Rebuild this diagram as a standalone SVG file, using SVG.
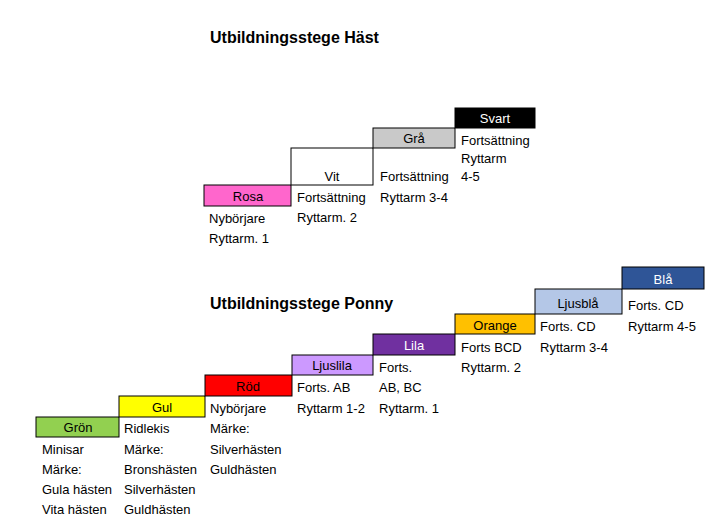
<svg xmlns="http://www.w3.org/2000/svg" width="716" height="530" viewBox="0 0 716 530">
<style>
text{font-family:"Liberation Sans",Arial,sans-serif;font-size:13px;fill:#000}
.t{font-size:16px;font-weight:bold}
.c{text-anchor:middle}
.w{fill:#fff}
.s{stroke:#000;stroke-width:1}
</style>
<rect width="716" height="530" fill="#fff"/>
<text class="t" x="210" y="43">Utbildningsstege Häst</text>
<text class="t" x="210" y="309">Utbildningsstege Ponny</text>
<g id="rosa"><rect class="s" x="204" y="185" width="87" height="21" fill="#ff66cc"/><text class="c" x="248" y="201">Rosa</text><text x="209" y="223">Nybörjare</text><text x="209" y="243">Ryttarm. 1</text></g>
<g id="vit"><rect class="s" x="291" y="148" width="82" height="37" fill="#fff"/><text class="c" x="332" y="181">Vit</text><text x="297" y="202">Fortsättning</text><text x="297" y="222">Ryttarm. 2</text></g>
<g id="gra"><rect class="s" x="373" y="128" width="82" height="20" fill="#c9c9c9"/><text class="c" x="414" y="143">Grå</text><text x="380" y="181">Fortsättning</text><text x="380" y="202">Ryttarm 3-4</text></g>
<g id="svart"><rect class="s" x="455" y="108" width="80" height="20" fill="#000"/><text class="c w" x="495" y="123">Svart</text><text x="461" y="145">Fortsättning</text><text x="461" y="163">Ryttarm</text><text x="461" y="181">4-5</text></g>
<g id="gron"><rect class="s" x="36" y="417" width="83" height="20" fill="#92d050"/><text class="c" x="78" y="432">Grön</text><text x="42" y="454">Minisar</text><text x="42" y="474">Märke:</text><text x="42" y="494">Gula hästen</text><text x="42" y="514">Vita hästen</text></g>
<g id="gul"><rect class="s" x="119" y="396" width="86" height="21" fill="#ffff00"/><text class="c" x="162" y="412">Gul</text><text x="124" y="433">Ridlekis</text><text x="124" y="454">Märke:</text><text x="124" y="474">Bronshästen</text><text x="124" y="494">Silverhästen</text><text x="124" y="514">Guldhästen</text></g>
<g id="rod"><rect class="s" x="205" y="375" width="87" height="21" fill="#ff0000"/><text class="c" x="248" y="391">Röd</text><text x="210" y="413">Nybörjare</text><text x="210" y="433">Märke:</text><text x="210" y="454">Silverhästen</text><text x="210" y="474">Guldhästen</text></g>
<g id="ljuslila"><rect class="s" x="292" y="355" width="81" height="20" fill="#cc99ff"/><text class="c" x="332" y="370">Ljuslila</text><text x="297" y="392">Forts. AB</text><text x="297" y="413">Ryttarm 1-2</text></g>
<g id="lila"><rect class="s" x="373" y="334" width="82" height="21" fill="#7030a0"/><text class="c w" x="414" y="350">Lila</text><text x="379" y="372">Forts.</text><text x="379" y="392">AB, BC</text><text x="379" y="413">Ryttarm. 1</text></g>
<g id="orange"><rect class="s" x="455" y="314" width="80" height="20" fill="#ffc000"/><text class="c" x="495" y="330">Orange</text><text x="461" y="352">Forts BCD</text><text x="461" y="372">Ryttarm. 2</text></g>
<g id="ljusbla"><rect class="s" x="535" y="289" width="87" height="25" fill="#b4c7e7"/><text class="c" x="578" y="308">Ljusblå</text><text x="540" y="331">Forts. CD</text><text x="540" y="352">Ryttarm 3-4</text></g>
<g id="bla"><rect class="s" x="622" y="267" width="82" height="22" fill="#2f5597"/><text class="c w" x="663" y="284">Blå</text><text x="628" y="310">Forts. CD</text><text x="628" y="331">Ryttarm 4-5</text></g>
<g id="connectors"/>
</svg>
